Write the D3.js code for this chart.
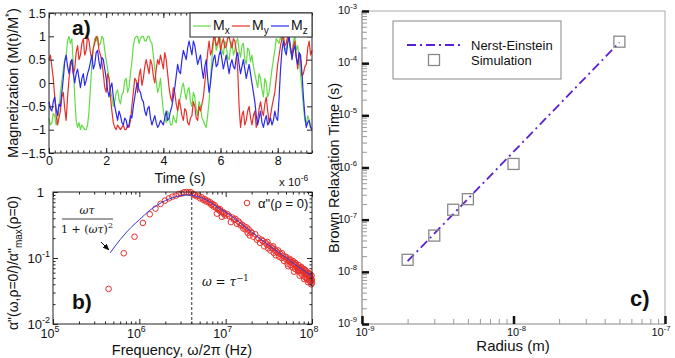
<!DOCTYPE html>
<meta charset="utf-8">
<head>
  <title>Magnetization and Brown relaxation</title>
</head>

<style>
  body { margin: 0; background: #fff; }
  svg text {
    font-family: "Liberation Sans", Arial, Helvetica, sans-serif;
    fill: #111;
  }
  .math { font-family: "DejaVu Serif", "Liberation Serif", serif; }
</style>

<body>
<script src="https://d3js.org/d3.v7.min.js"></script>
<div id="chart"></div>
<script>

// ---- panel a: magnetization samples, one every 0.05 us
var sampleStepUs = 0.05;
var mx = [-0.75,-0.9,-0.85,-0.65,-0.7,-0.9,-0.8,-0.55,-0.2,0.05,
  0.3,0.5,0.6,0.9,1,0.85,0.95,0.4,-0.3,-0.8,
  -0.95,-0.85,-1,-0.9,-0.95,-1,-1,-0.9,-0.6,-0.1,
  0.4,0.75,0.95,0.9,1,0.8,0.85,1,0.95,0.7,
  0.5,0.3,0.1,-0.15,-0.3,-0.5,-0.4,-0.2,-0.15,-0.35,
  -0.45,-0.25,-0.2,0.05,0.1,-0.2,-0.1,0.2,0.45,0.8,
  0.95,1,1,0.85,0.95,1,1,0.9,0.9,1,
  1,0.9,0.85,0.6,0.3,0.05,-0.2,-0.1,0.1,-0.3,
  -0.6,-0.75,-0.85,-0.6,-0.7,-0.9,-0.9,-0.7,-0.8,-0.85,
  -0.6,-0.45,-0.3,-0.1,0,-0.2,-0.35,-0.15,-0.1,-0.4,
  -0.5,-0.2,-0.3,-0.55,-0.7,-0.4,-0.5,-0.75,-0.8,-0.9,
  -0.95,-0.7,-0.4,0.1,0.5,0.85,1,0.7,0.8,0.95,
  0.95,0.7,0.6,0.9,0.8,0.55,0.5,0.75,0.9,0.6,
  0.7,0.9,0.95,0.7,0.55,0.8,0.85,0.5,0.4,0.75,
  0.7,0.45,0.6,0.35,0.2,0.05,-0.1,0.2,0.1,-0.15,
  -0.3,0.1,0,-0.3,-0.2,0.05,0.3,0.5,0.7,0.95,
  0.9,0.85,1,0.9,0.95,0.75,0.7,0.95,0.9,0.65,
  0.6,0.9,1,0.7,0.8,0.5,0.2,-0.15,-0.5,-0.8,
  -0.9,-0.7,-0.8,-0.95,-0.95];
var my = [0.5,0.6,0.35,0.1,-0.3,-0.7,-0.9,-0.75,-0.6,-0.3,
  -0.2,-0.55,-0.8,-0.3,0.1,0.35,0.5,0.2,0.3,0.65,
  0.8,0.5,0.6,0.85,0.95,0.6,0.7,1,0.9,0.65,
  0.5,0.75,0.85,1,0.95,0.7,0.6,0.45,0.2,-0.1,
  -0.2,0.2,0.1,-0.3,-0.6,-0.85,-0.95,-1,-0.9,-0.95,
  -1,-0.95,-0.9,-1,-1,-0.9,-0.95,-0.8,-0.5,-0.2,
  0.1,0.05,-0.2,0.15,0.3,-0.05,0.1,0.35,0.5,0.35,
  0.2,0.5,0.4,0.15,0,0.3,0.5,0.4,0.6,0.45,
  0.3,0.65,0.5,0.2,-0.1,-0.3,-0.4,-0.1,-0.2,-0.45,
  -0.6,-0.35,-0.5,-0.7,-0.8,-0.55,-0.6,-0.85,-0.9,-0.75,
  -0.7,-0.4,-0.5,-0.75,-0.8,-0.5,-0.6,-0.45,-0.3,0,
  0.3,0.65,0.9,0.6,0.7,0.95,1,0.8,0.85,1,
  0.7,0.85,0.95,0.75,0.8,0.95,1,0.85,0.75,0.95,
  0.9,0.7,0.3,-0.5,-0.95,-0.7,-0.6,-0.9,-0.8,-0.6,
  -0.5,-0.75,-0.9,-0.7,-0.6,-0.95,-0.8,-0.55,-0.4,-0.6,
  -0.7,-0.45,-0.3,-0.6,-0.85,-0.7,-0.5,-0.35,-0.2,0.1,
  0.4,0.6,0.8,0.95,1,0.8,0.85,1,0.95,0.75,
  0.6,0.8,0.9,0.55,0.3,0.6,0.5,0.15,0.2,0.35,
  0.4,0.75,0.9,0.6,0.7];
var mz = [-0.4,-0.55,-0.6,-0.4,-0.3,-0.55,-0.7,-0.45,-0.5,-0.2,
  0.1,0.45,0.6,0.35,0.2,0.45,0.5,0.2,0,0.2,
  0.3,0.1,-0.1,0.1,0.2,-0.05,0.05,0.2,0.3,0.45,
  0.6,0.3,0.4,0.65,0.7,0.45,0.3,0.55,0.5,0.3,
  0.1,-0.15,-0.3,-0.1,0,-0.3,-0.5,-0.65,-0.8,-0.6,
  -0.7,-0.85,-0.9,-0.75,-0.8,-0.95,-0.9,-0.7,-0.75,-0.5,
  -0.3,-0.1,0,-0.15,-0.2,-0.35,-0.4,-0.6,-0.7,-0.55,
  -0.5,-0.75,-0.9,-0.8,-0.7,-0.85,-0.95,-0.9,-0.8,-0.85,
  -0.9,-0.75,-0.6,-0.8,-0.75,-0.6,-0.5,-0.3,-0.1,0.15,
  0.4,0.25,0.2,0.5,0.7,0.6,0.5,0.75,0.9,0.75,
  0.6,0.9,0.8,0.6,0.4,0.5,0.6,0.3,0.1,0.35,
  0.5,0.1,-0.2,0,0.3,0.5,0.6,0.35,0.4,0.6,
  0.7,0.5,0.3,0.45,0.6,0.4,0.2,0.4,0.5,0.35,
  0.3,0.55,0.65,0.4,0.2,0.35,0.5,0.3,0.1,0.25,
  0.4,0.2,0,-0.2,-0.4,-0.7,-0.9,-0.75,-0.6,-0.85,
  -0.95,-0.8,-0.7,-0.9,-0.85,-0.75,-0.9,-0.8,-0.6,-0.75,
  -0.8,-0.3,0.3,0.7,0.9,0.7,0.6,0.85,1,0.75,
  0.5,0.7,0.8,0.55,0.4,0.65,0.6,0.2,-0.3,-0.7,
  -0.95,-0.85,-0.8,-0.95,-1];
var seriesNames = ["x", "y", "z"];
var seriesColors = ["#62dc45", "#e8302c", "#2b2bf0"];
var timeTicks = [0, 2, 4, 6, 8];
var magTicks = [-1.5, -1, -0.5, 0, 0.5, 1, 1.5];

// ---- panel b: normalised loss spectrum
var freqHz = [4.4e5,6.6e5,8.8e5,1.1e6,1.32e6,1.54e6,1.76e6,1.98e6,2.2e6,2.42e6,2.64e6,2.86e6,3.08e6,3.3e6,3.52e6,3.74e6,3.96e6,
  4.18e6,4.4e6,4.62e6,4.84e6,5.06e6,5.28e6,5.5e6,5.72e6,5.94e6,6.16e6,6.38e6,6.6e6,6.82e6,7.04e6,7.26e6,7.48e6,7.7e6,7.92e6,
  8.14e6,8.36e6,8.58e6,8.8e6,9.02e6,9.24e6,9.46e6,9.68e6,9.9e6,
  1.05e7,1.1e7,1.15e7,1.2e7,1.25e7,1.3e7,1.35e7,1.4e7,1.45e7,1.5e7,1.55e7,1.6e7,1.65e7,1.7e7,1.75e7,1.8e7,1.85e7,1.9e7,1.95e7,
  2e7,2.1e7,2.2e7,2.3e7,2.4e7,2.5e7,2.6e7,2.7e7,2.8e7,2.9e7,3e7,3.1e7,3.2e7,3.3e7,3.4e7,3.5e7,3.6e7,3.7e7,3.8e7,3.9e7,
  4e7,4.15e7,4.3e7,4.45e7,4.6e7,4.75e7,4.9e7,5.05e7,5.2e7,5.35e7,5.5e7,5.65e7,5.8e7,5.95e7,6.1e7,6.25e7,6.4e7,6.55e7,6.7e7,6.85e7,
  7e7,7.15e7,7.3e7,7.45e7,7.6e7,7.75e7,7.9e7,8.05e7,8.2e7,8.35e7,8.5e7,8.65e7,8.8e7,8.95e7,9.1e7,9.25e7,9.4e7,9.55e7,9.7e7,9.85e7,1e8,
  3.05e7,3.55e7,4.05e7,4.5e7,5e7,5.5e7,6e7,6.5e7,7e7,7.5e7,8e7,8.5e7,9e7,9.5e7,9.9e7,
  5.3e7,6.2e7,7.2e7,8.1e7,9e7,9.8e7,
  5.6e7,6.3e7,6.9e7,7.6e7,8.3e7,8.8e7,9.3e7,9.6e7,9.95e7];
var alphaSim = [0.034,0.118,0.21,0.34,0.46,0.56,0.66,0.74,0.8,0.85,0.88,0.93,0.95,0.99,1,0.98,0.99,
  0.93,0.9,0.86,0.88,0.8,0.83,0.76,0.78,0.72,0.74,0.69,0.7,0.64,0.66,0.6,0.63,0.58,0.47,
  0.56,0.53,0.55,0.5,0.42,0.5,0.47,0.48,0.44,
  0.46,0.43,0.35,0.41,0.38,0.39,0.33,0.36,0.34,0.31,0.32,0.28,0.3,0.27,0.29,0.24,0.27,0.22,0.25,
  0.24,0.21,0.23,0.19,0.2,0.17,0.19,0.18,0.15,0.17,0.16,0.14,0.155,0.13,0.145,0.14,0.12,0.135,0.11,0.125,
  0.12,0.105,0.115,0.1,0.108,0.09,0.102,0.095,0.082,0.094,0.088,0.078,0.087,0.072,0.082,0.079,0.068,0.077,0.074,0.063,
  0.071,0.069,0.06,0.067,0.064,0.055,0.063,0.061,0.052,0.059,0.057,0.049,0.056,0.054,0.046,0.052,0.05,0.044,0.049,0.047,0.042,
  0.175,0.15,0.13,0.118,0.104,0.097,0.09,0.083,0.078,0.073,0.068,0.064,0.06,0.057,0.054,
  0.075,0.062,0.054,0.048,0.043,0.04,
  0.092,0.085,0.066,0.071,0.066,0.048,0.058,0.052,0.046];
var fitFreq = [4.6e5,6e5,8e5,1e6,1.33e6,2e6,3e6,3.6e6,4.5e6,6e6,7.9e6,1e7,1.4e7,1.9e7,3e7,4.6e7,7e7,1e8];
var fitAlpha = [0.12,0.19,0.29,0.38,0.53,0.74,0.88,0.9,0.87,0.76,0.6,0.5,0.36,0.26,0.165,0.11,0.073,0.053];
var peakFreq = 4.05e6;
var freqTicks = [1e5, 1e6, 1e7, 1e8];
var alphaTicks = [1e-2, 1e-1, 1];

// ---- panel c: Brown relaxation time vs radius
var radius = [2e-9, 3e-9, 4e-9, 5e-9, 1e-8, 5e-8];
var relaxTime = [1.7e-8, 4.95e-8, 1.55e-7, 2.47e-7, 1.17e-6, 2.58e-4];
var nerstRadius = [2e-9, 5e-8];
var nerstTime = [1.6e-8, 2.5e-4];
var radiusTicks = [1e-9, 1e-8, 1e-7];
var timeTicksC = [1e-9, 1e-8, 1e-7, 1e-6, 1e-5, 1e-4, 1e-3];

var svg = d3.select("#chart").append("svg")
  .attr("width", 675)
  .attr("height", 358);

svg.append("defs").append("marker")
  .attr("id", "arrow")
  .attr("viewBox", "0 0 10 10")
  .attr("refX", 9).attr("refY", 5)
  .attr("markerWidth", 7).attr("markerHeight", 7)
  .attr("orient", "auto")
  .append("path").attr("d", "M0,1 L10,5 L0,9 Z").attr("fill", "#111");

// power-of-ten label: "10" with a raised exponent
function pow10(sel, e, size) {
  sel.text("10");
  sel.append("tspan")
    .attr("dy", -size * 0.45)
    .attr("font-size", size * 0.7)
    .text(e);
}

function minorLog(domain) {
  var out = [];
  var lo = Math.round(Math.log10(domain[0])), hi = Math.round(Math.log10(domain[1]));
  for (var p = lo; p < hi; p++) {
    for (var m = 2; m <= 9; m++) out.push(m * Math.pow(10, p));
  }
  return out;
}

function tickStyle(g, color) {
  g.select(".domain").remove();
  g.selectAll("line").attr("stroke", color || "#222");
}

// ================= panel a =================
var xa = d3.scaleLinear().domain([0, 9.2]).range([49, 312]);
var ya = d3.scaleLinear().domain([-1.5, 1.5]).range([153, 13]);

var gA = svg.append("g");
var magLine = d3.line()
  .x(function(d, i) { return xa(i * sampleStepUs); })
  .y(function(d) { return ya(d); });

[mx, my, mz].forEach(function(s, k) {
  gA.append("path")
    .attr("d", magLine(s))
    .attr("fill", "none")
    .attr("stroke", seriesColors[k])
    .attr("stroke-width", 1.2)
    .attr("stroke-linejoin", "round");
});

gA.append("rect")
  .attr("x", 49).attr("y", 13).attr("width", 263).attr("height", 140)
  .attr("fill", "none").attr("stroke", "#222");

var minorTime = d3.range(0, 9.21, 0.2);
gA.append("g").attr("transform", "translate(0,153)")
  .call(d3.axisBottom(xa).tickValues(timeTicks).tickSize(-5).tickPadding(3))
  .call(tickStyle);
gA.append("g").attr("transform", "translate(0,153)")
  .call(d3.axisBottom(xa).tickValues(minorTime).tickSize(-2.5).tickFormat(""))
  .call(tickStyle);
gA.append("g").attr("transform", "translate(0,13)")
  .call(d3.axisTop(xa).tickValues(timeTicks).tickSize(-5).tickFormat(""))
  .call(tickStyle);
gA.append("g").attr("transform", "translate(0,13)")
  .call(d3.axisTop(xa).tickValues(minorTime).tickSize(-2.5).tickFormat(""))
  .call(tickStyle);
gA.append("g").attr("transform", "translate(49,0)")
  .call(d3.axisLeft(ya).tickValues(magTicks).tickSize(-5).tickPadding(3).tickFormat(d3.format("")))
  .call(tickStyle);
gA.append("g").attr("transform", "translate(312,0)")
  .call(d3.axisRight(ya).tickValues(magTicks).tickSize(-5).tickFormat(""))
  .call(tickStyle);
gA.selectAll(".tick text").attr("font-size", 12.5).attr("font-family", null);

// legend a
gA.append("rect")
  .attr("x", 190).attr("y", 13).attr("width", 122).attr("height", 24)
  .attr("fill", "#fff").attr("stroke", "#222");
seriesNames.forEach(function(n, k) {
  var x0 = 193 + k * 39;
  gA.append("line")
    .attr("x1", x0).attr("x2", x0 + 18).attr("y1", 26).attr("y2", 26)
    .attr("stroke", seriesColors[k]).attr("stroke-width", 1.2);
  var t = gA.append("text").attr("x", x0 + 20).attr("y", 30).attr("font-size", 14).text("M");
  t.append("tspan").attr("dy", 4).attr("font-size", 10).text(n);
});

gA.append("text").attr("x", 72).attr("y", 35)
  .attr("font-size", 21).attr("font-weight", "bold").text("a)");

gA.append("text").attr("x", 180).attr("y", 183)
  .attr("text-anchor", "middle").attr("font-size", 14).text("Time (s)");
var xs = gA.append("text").attr("x", 279).attr("y", 186).attr("font-size", 11.5).text("x 10");
xs.append("tspan").attr("dy", -5).attr("font-size", 8.5).text("-6");

var yla = gA.append("text")
  .attr("transform", "translate(18,83) rotate(-90)")
  .attr("text-anchor", "middle").attr("font-size", 14.5)
  .text("Magnetization (M(t)/M");
yla.append("tspan").attr("dy", -5).attr("font-size", 10).text("*");
yla.append("tspan").attr("dy", 5).text(")");

// ================= panel b =================
var xb = d3.scaleLog().domain([1e5, 1e8]).range([53, 312]);
var yb = d3.scaleLog().domain([1e-2, 1]).range([324, 192]);
var gB = svg.append("g");

gB.append("line")
  .attr("x1", xb(peakFreq)).attr("x2", xb(peakFreq))
  .attr("y1", 192).attr("y2", 324)
  .attr("stroke", "#333").attr("stroke-dasharray", "3,2");

gB.selectAll("circle.sim")
  .data(freqHz)
  .enter().append("circle")
  .attr("class", "sim")
  .attr("cx", function(d) { return xb(d); })
  .attr("cy", function(d, i) { return yb(alphaSim[i]); })
  .attr("r", 2.8)
  .attr("fill", "none")
  .attr("stroke", "#e8302c")
  .attr("stroke-width", 1);

gB.append("path")
  .attr("d", d3.line()
    .x(function(d) { return xb(d); })
    .y(function(d, i) { return yb(fitAlpha[i]); })
    .curve(d3.curveMonotoneX)(fitFreq))
  .attr("fill", "none")
  .attr("stroke", "#3a3ad6")
  .attr("stroke-width", 1);

gB.append("rect")
  .attr("x", 53).attr("y", 192).attr("width", 259).attr("height", 132)
  .attr("fill", "none").attr("stroke", "#222");

var minorF = minorLog(xb.domain()), minorA = minorLog(yb.domain());
[[d3.axisBottom, 324], [d3.axisTop, 192]].forEach(function(a) {
  gB.append("g").attr("transform", "translate(0," + a[1] + ")")
    .call(a[0](xb).tickValues(freqTicks).tickSize(-5).tickFormat(""))
    .call(tickStyle);
  gB.append("g").attr("transform", "translate(0," + a[1] + ")")
    .call(a[0](xb).tickValues(minorF).tickSize(-2.5).tickFormat(""))
    .call(tickStyle);
});
[[d3.axisLeft, 53], [d3.axisRight, 312]].forEach(function(a) {
  gB.append("g").attr("transform", "translate(" + a[1] + ",0)")
    .call(a[0](yb).tickValues(alphaTicks).tickSize(-5).tickFormat(""))
    .call(tickStyle);
  gB.append("g").attr("transform", "translate(" + a[1] + ",0)")
    .call(a[0](yb).tickValues(minorA).tickSize(-2.5).tickFormat(""))
    .call(tickStyle);
});

freqTicks.forEach(function(f) {
  gB.append("text").attr("x", xb(f) - 3).attr("y", 338)
    .attr("text-anchor", "middle").attr("font-size", 12.5)
    .call(pow10, Math.round(Math.log10(f)), 12.5);
});
alphaTicks.forEach(function(a) {
  var e = Math.round(Math.log10(a));
  var t = gB.append("text").attr("y", yb(a) + 5).attr("font-size", 13).attr("text-anchor", "end");
  if (e === 0) t.attr("x", 44).text("1");
  else t.attr("x", 50).call(pow10, e, 13);
});

gB.append("text").attr("x", 182).attr("y", 355)
  .attr("text-anchor", "middle").attr("font-size", 14.5)
  .text("Frequency, \u03c9/2\u03c0 (Hz)");

var ylb = gB.append("text")
  .attr("transform", "translate(18,263) rotate(-90)")
  .attr("text-anchor", "middle").attr("font-size", 14)
  .text("\u03b1\"(\u03c9,\u03c1=0/)/\u03b1\"");
ylb.append("tspan").attr("dy", 4).attr("font-size", 10).text("max");
ylb.append("tspan").attr("dy", -4).text("(\u03c1=0)");

// legend b
gB.append("circle").attr("cx", 247).attr("cy", 203).attr("r", 2.8)
  .attr("fill", "none").attr("stroke", "#e8302c").attr("stroke-width", 1);
gB.append("text").attr("x", 258).attr("y", 208).attr("font-size", 13)
  .text("\u03b1\"(\u03c1 = 0)");

// formula annotation
gB.append("text").attr("class", "math").attr("x", 87).attr("y", 214)
  .attr("text-anchor", "middle").attr("font-size", 11).attr("font-style", "italic")
  .text("\u03c9\u03c4");
gB.append("line").attr("x1", 62).attr("x2", 113).attr("y1", 219).attr("y2", 219)
  .attr("stroke", "#111").attr("stroke-width", 0.8);
var den = gB.append("text").attr("class", "math").attr("x", 87).attr("y", 233)
  .attr("text-anchor", "middle").attr("font-size", 11).text("1 + (");
den.append("tspan").attr("font-style", "italic").text("\u03c9\u03c4");
den.append("tspan").text(")");
den.append("tspan").attr("dy", -5).attr("font-size", 8).text("2");
gB.append("line").attr("x1", 101).attr("y1", 242).attr("x2", 109).attr("y2", 250)
  .attr("stroke", "#111").attr("stroke-width", 1).attr("marker-end", "url(#arrow)");

var wt = gB.append("text").attr("class", "math").attr("x", 202).attr("y", 286)
  .attr("font-size", 12);
wt.append("tspan").attr("font-style", "italic").text("\u03c9");
wt.append("tspan").text(" = ");
wt.append("tspan").attr("font-style", "italic").text("\u03c4");
wt.append("tspan").attr("dy", -5).attr("font-size", 8.5).text("\u22121");

gB.append("text").attr("x", 72).attr("y", 309)
  .attr("font-size", 21).attr("font-weight", "bold").text("b)");

// ================= panel c =================
var xc = d3.scaleLog().domain([1e-9, 1e-7]).range([362, 665]);
var yc = d3.scaleLog().domain([1e-9, 1e-3]).range([324, 11]);
var gC = svg.append("g");

// frame
gC.append("path").attr("d", "M362,11 H665 V324")
  .attr("fill", "none").attr("stroke", "#aaa").attr("stroke-width", 1);
gC.append("path").attr("d", "M362,11 V324 H665")
  .attr("fill", "none").attr("stroke", "#888").attr("stroke-width", 1.2);

gC.append("g").attr("transform", "translate(362,0)")
  .call(d3.axisRight(yc).tickValues(minorLog(yc.domain())).tickSize(5).tickFormat(""))
  .call(tickStyle, "#999");
gC.append("g").attr("transform", "translate(362,0)")
  .call(d3.axisRight(yc).tickValues(timeTicksC).tickSize(7).tickFormat(""))
  .call(tickStyle, "#111")
  .selectAll("line").attr("stroke-width", 2.5);
gC.append("g").attr("transform", "translate(0,324)")
  .call(d3.axisTop(xc).tickValues(minorLog(xc.domain())).tickSize(5).tickFormat(""))
  .call(tickStyle, "#999");
gC.append("g").attr("transform", "translate(0,324)")
  .call(d3.axisTop(xc).tickValues(radiusTicks).tickSize(8).tickFormat(""))
  .call(tickStyle, "#111")
  .selectAll("line").attr("stroke-width", 2.5);

timeTicksC.forEach(function(v) {
  gC.append("text").attr("x", 357).attr("y", yc(v) + 3)
    .attr("text-anchor", "end").attr("font-size", 11)
    .call(pow10, Math.round(Math.log10(v)), 11);
});
radiusTicks.forEach(function(v) {
  gC.append("text").attr("x", Math.min(xc(v) + 3, 661)).attr("y", 336)
    .attr("text-anchor", "middle").attr("font-size", 11)
    .call(pow10, Math.round(Math.log10(v)), 11);
});

gC.append("path")
  .attr("d", d3.line()
    .x(function(d) { return xc(d); })
    .y(function(d, i) { return yc(nerstTime[i]); })(nerstRadius))
  .attr("fill", "none")
  .attr("stroke", "#5a1fd1")
  .attr("stroke-width", 1.8)
  .attr("stroke-dasharray", "9,4,2,4");

gC.selectAll("rect.sim")
  .data(radius)
  .enter().append("rect")
  .attr("class", "sim")
  .attr("x", function(d) { return xc(d) - 5.5; })
  .attr("y", function(d, i) { return yc(relaxTime[i]) - 5.5; })
  .attr("width", 11).attr("height", 11)
  .attr("fill", "none")
  .attr("stroke", "#888")
  .attr("stroke-width", 1.3);

// legend c
gC.append("rect").attr("x", 393).attr("y", 21).attr("width", 168).attr("height", 58)
  .attr("fill", "#fff").attr("stroke", "#888");
gC.append("line").attr("x1", 407).attr("x2", 462).attr("y1", 45).attr("y2", 45)
  .attr("stroke", "#5a1fd1").attr("stroke-width", 1.8).attr("stroke-dasharray", "9,4,2,4");
gC.append("rect").attr("x", 428.5).attr("y", 54.5).attr("width", 11).attr("height", 11)
  .attr("fill", "none").attr("stroke", "#888").attr("stroke-width", 1.3);
gC.append("text").attr("x", 471).attr("y", 50).attr("font-size", 13).text("Nerst-Einstein");
gC.append("text").attr("x", 471).attr("y", 65).attr("font-size", 13).text("Simulation");

gC.append("text").attr("x", 630).attr("y", 306)
  .attr("font-size", 22).attr("font-weight", "bold").text("c)");

gC.append("text").attr("x", 513).attr("y", 351)
  .attr("text-anchor", "middle").attr("font-size", 15).text("Radius (m)");
gC.append("text")
  .attr("transform", "translate(339,168) rotate(-90)")
  .attr("text-anchor", "middle").attr("font-size", 14.5)
  .text("Brown Relaxation Time (s)");

</script>
</body>
</html>
